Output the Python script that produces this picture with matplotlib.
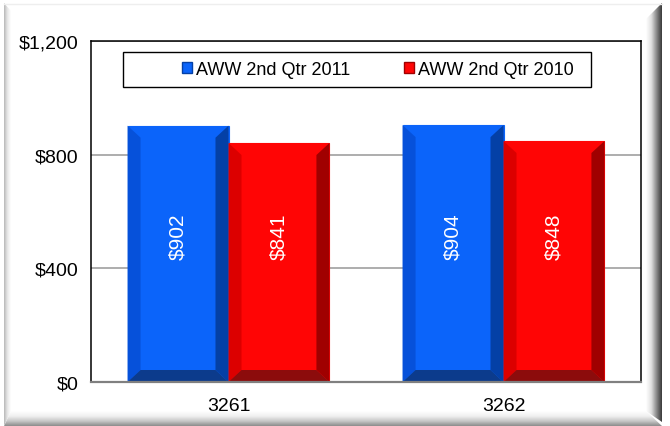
import numpy as np
import matplotlib
matplotlib.use("Agg")
import matplotlib.pyplot as plt
from matplotlib.patches import Polygon, Rectangle
from matplotlib.colors import LinearSegmentedColormap

plt.rcParams['font.family'] = ['Liberation Sans', 'DejaVu Sans']

# chart data
categories = ["3261", "3262"]
series_names = ["AWW 2nd Qtr 2011", "AWW 2nd Qtr 2010"]
aww_2011 = [902, 904]
aww_2010 = [841, 848]
y_ticks = [0, 400, 800, 1200]

# face, left, right, bottom shades for each series
blue_shades = ["#0B64FA", "#0651DA", "#0440A6", "#0C3B8C"]
red_shades = ["#FF0505", "#DC0000", "#A00000", "#8C0C0C"]

W, H = 670, 427
fig = plt.figure(figsize=(W / 100, H / 100), dpi=100)

# beveled picture frame drawn in pixel coordinates
bg = fig.add_axes([0, 0, 1, 1], zorder=-5)
bg.set_xlim(0, W)
bg.set_ylim(H, 0)
bg.axis("off")


def band(ax, extent, poly, colors, vertical):
    cmap = LinearSegmentedColormap.from_list("b", colors)
    grad = np.linspace(0, 1, 64)
    img = grad[None, :] if vertical else grad[:, None]
    im = ax.imshow(img, extent=extent, cmap=cmap, aspect="auto",
                   interpolation="bilinear", origin="upper")
    p = Polygon(poly, closed=True, facecolor="none", edgecolor="none")
    ax.add_patch(p)
    im.set_clip_path(p)


# right edge
band(bg, (646, 662, 423, 4), [(646, 20), (662, 4), (662, 423), (646, 412)],
     ["#FFFFFF", "#E0E0E0", "#8A8A8A", "#3A3A3A"], True)
# bottom edge (row 0 sits at y=412)
band(bg, (4, 662, 427, 412), [(11, 412), (646, 412), (662, 427), (4, 427)],
     ["#FFFFFF", "#F0F0F0", "#C8C8C8", "#8C8C8C"], False)
# left edge
band(bg, (4, 11, 427, 4), [(4, 4), (11, 12), (11, 412), (4, 427)],
     ["#B8B8B8", "#E8E8E8", "#FFFFFF"], True)
bg.plot([4, 662], [4.5, 4.5], color="#EEEEEE", lw=1)

ax = fig.add_axes([91 / W, (H - 383) / H, 550 / W, 341 / H])
ax.set_xlim(-0.5, 1.5)
ax.set_ylim(0, 1200)

bar_w = 0.367
# bevel size in data units (about 13 px across, 12 px down)
bx = 13 / 275
by = 12 / 341 * 1200


def bevel_bar(x0, value, shades, label):
    x1 = x0 + bar_w
    ax.bar(x0, value, width=bar_w, align="edge", color=shades[0],
           edgecolor=shades[0], linewidth=0.8, zorder=3)
    left = [(x0, 0), (x0, value), (x0 + bx, value - by), (x0 + bx, by)]
    right = [(x1, 0), (x1, value), (x1 - bx, value - by), (x1 - bx, by)]
    bottom = [(x0, 0), (x1, 0), (x1 - bx, by), (x0 + bx, by)]
    for pts, c in [(left, shades[1]), (right, shades[2]), (bottom, shades[3])]:
        ax.add_patch(Polygon(pts, closed=True, facecolor=c, edgecolor="none",
                             zorder=4))
    ax.text(x0 + bar_w / 2, 515, label, rotation=90, color="white",
            fontsize=15, ha="center", va="center", zorder=5)


for i, v in enumerate(aww_2011):
    bevel_bar(i - bar_w, v, blue_shades, f"${v:,}")
for i, v in enumerate(aww_2010):
    bevel_bar(i, v, red_shades, f"${v:,}")

ax.set_yticks(y_ticks)
ax.set_yticklabels([f"${t:,}" for t in y_ticks])
ax.set_xticks(range(len(categories)))
ax.set_xticklabels(categories)
ax.tick_params(axis="y", length=0, pad=9, labelsize=14)
ax.tick_params(axis="x", length=0, pad=11, labelsize=14)
ax.grid(axis="y", color="#A0A0A0", linewidth=1.2, zorder=0)
ax.set_axisbelow(True)
for s in ["left", "top", "right"]:
    ax.spines[s].set_color("black")
    ax.spines[s].set_linewidth(1.1)
ax.spines["bottom"].set_color("#808080")
ax.spines["bottom"].set_linewidth(1.6)
ax.spines["bottom"].set_zorder(6)

# legend with its own box
ax.add_patch(Rectangle(((123 - 91) / 550, (383 - 88) / 341), 468 / 550, 35 / 341,
                       transform=ax.transAxes, facecolor="white",
                       edgecolor="black", linewidth=1.0, zorder=6))
handles = [Rectangle((0, 0), 1, 1, facecolor=blue_shades[0], edgecolor=blue_shades[2]),
           Rectangle((0, 0), 1, 1, facecolor=red_shades[0], edgecolor=red_shades[2])]
leg = ax.legend(handles, series_names, loc="center", ncol=2,
                bbox_to_anchor=((378 - 91) / 550, (383 - 70.5) / 341),
                frameon=False, fontsize=13, handlelength=0.55,
                handleheight=0.55, handletextpad=0.2, columnspacing=3.0)
leg.set_zorder(7)

fig.savefig("out.png", dpi=100)
